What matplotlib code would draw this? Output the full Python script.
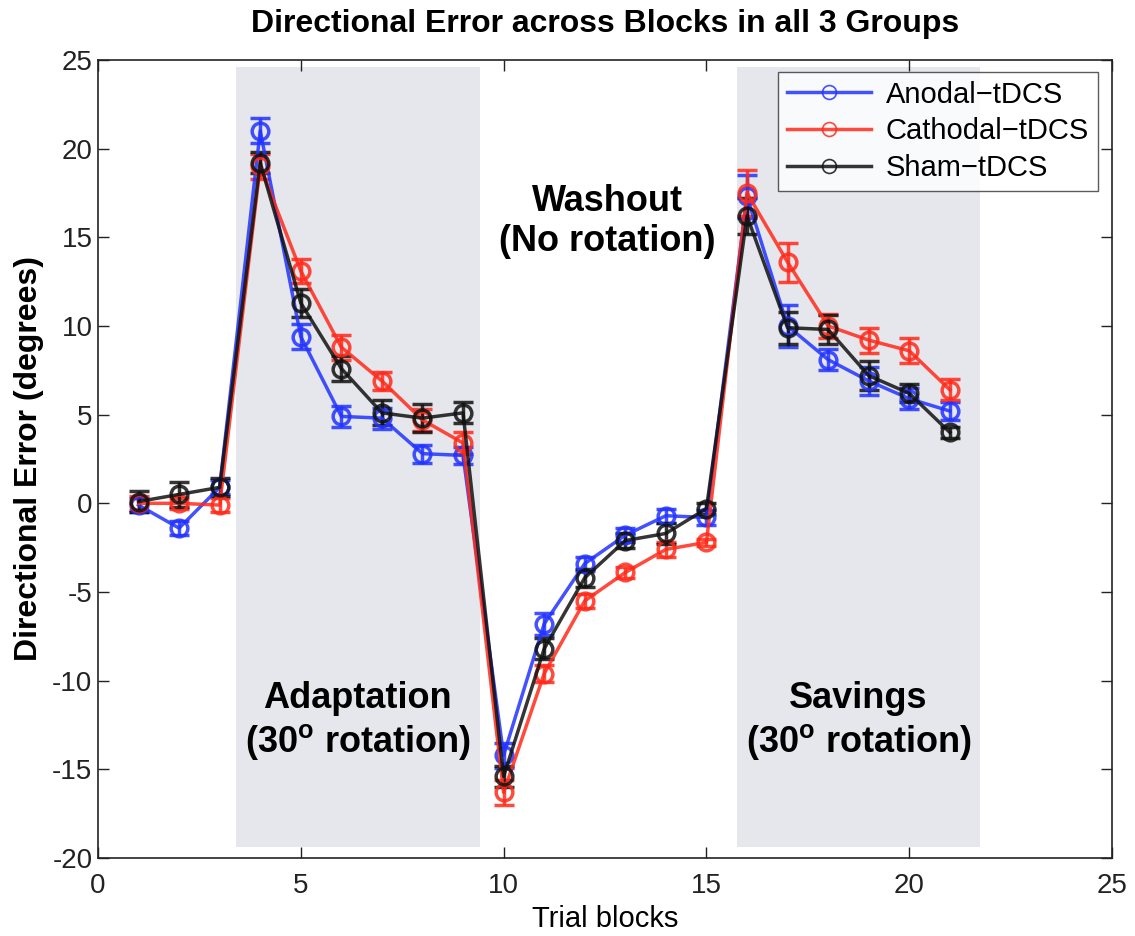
import matplotlib.pyplot as plt

plt.rcParams['font.family'] = ['Liberation Sans', 'DejaVu Sans']
plt.rcParams['axes.unicode_minus'] = False

blocks = list(range(1, 22))

anodal = [-0.1, -1.4, 0.9, 21.0, 9.4, 4.9, 4.8, 2.8, 2.7,
          -14.2, -6.8, -3.4, -1.8, -0.7, -0.8,
          17.3, 10.0, 8.1, 6.9, 5.9, 5.2]
anodal_err = [0.4, 0.4, 0.4, 0.7, 0.7, 0.6, 0.6, 0.5, 0.5,
              0.7, 0.6, 0.4, 0.4, 0.4, 0.4,
              1.2, 1.2, 0.6, 0.8, 0.6, 0.5]

cathodal = [0.0, 0.0, -0.1, 19.0, 13.1, 8.8, 6.9, 4.7, 3.4,
            -16.3, -9.6, -5.5, -3.9, -2.6, -2.2,
            17.5, 13.6, 10.0, 9.2, 8.6, 6.4]
cathodal_err = [0.4, 0.3, 0.4, 0.7, 0.7, 0.7, 0.5, 0.6, 0.6,
                0.7, 0.5, 0.4, 0.3, 0.4, 0.2,
                1.3, 1.1, 0.7, 0.7, 0.7, 0.6]

sham = [0.1, 0.5, 0.9, 19.2, 11.3, 7.6, 5.1, 4.8, 5.1,
        -15.4, -8.2, -4.2, -2.1, -1.7, -0.3,
        16.2, 9.9, 9.8, 7.2, 6.2, 4.0]
sham_err = [0.6, 0.7, 0.5, 0.6, 0.8, 0.7, 0.7, 0.8, 0.6,
            0.6, 0.6, 0.5, 0.4, 0.6, 0.3,
            1.0, 0.9, 0.8, 0.8, 0.5, 0.3]

series = [
    ('Anodal\u2212tDCS', anodal, anodal_err, '#2233ff'),
    ('Cathodal\u2212tDCS', cathodal, cathodal_err, '#ff2a1a'),
    ('Sham\u2212tDCS', sham, sham_err, '#111111'),
]

fig = plt.figure(figsize=(11.35, 9.36), dpi=100)
ax = fig.add_axes([0.0863, 0.0833, 0.8935, 0.8527])

# shaded rotation blocks
for x0, x1 in [(3.4, 9.42), (15.75, 21.75)]:
    ax.fill_between([x0, x1], -19.4, 24.6, color='#e5e7ec', zorder=0, lw=0)

for name, vals, errs, col in series:
    ax.errorbar(blocks, vals, yerr=errs, color=col, lw=2.5, marker='o',
                markersize=12, markerfacecolor='none', markeredgewidth=2.5,
                capsize=7, capthick=2.5, elinewidth=2.5, label=name, alpha=0.85)

bold = dict(fontsize=26, fontweight='bold', ha='center', va='center')
ax.text(6.4, -12.3, 'Adaptation\n(30$^\\mathregular{o}$ rotation)', linespacing=1.2, **bold)
ax.text(12.55, 15.9, 'Washout\n(No rotation)', linespacing=1.2, **bold)
ax.text(18.75, -12.3, 'Savings\n(30$^\\mathregular{o}$ rotation)', linespacing=1.2, **bold)

ax.set_xlim(0, 25)
ax.set_ylim(-20, 25)
ax.set_xticks(range(0, 26, 5))
ax.set_yticks(range(-20, 26, 5))
ax.tick_params(direction='in', top=True, right=True, labelsize=20, length=8,
               width=1, colors='#222222', pad=4)
ax.tick_params(axis='x', pad=11)
for s in ax.spines.values():
    s.set_color('#222222')
    s.set_linewidth(1.2)
ax.set_title('Directional Error across Blocks in all 3 Groups',
             fontsize=23, fontweight='bold', pad=20)
ax.set_xlabel('Trial blocks', fontsize=21, labelpad=4)
ax.set_ylabel('Directional Error (degrees)', fontsize=23, fontweight='bold', labelpad=6)

handles, labels = ax.get_legend_handles_labels()
handles = [h[0] for h in handles]
leg = ax.legend(handles, labels, loc='upper right', fontsize=21, frameon=True,
                fancybox=False, edgecolor='#333333', handlelength=2.9,
                borderpad=0.3, labelspacing=0.3, handletextpad=0.5,
                borderaxespad=0, bbox_to_anchor=(0.986, 0.985))
for h in leg.legend_handles:
    h.set_markersize(10)
    h.set_markeredgewidth(1.2)

fig.savefig('out.png')
